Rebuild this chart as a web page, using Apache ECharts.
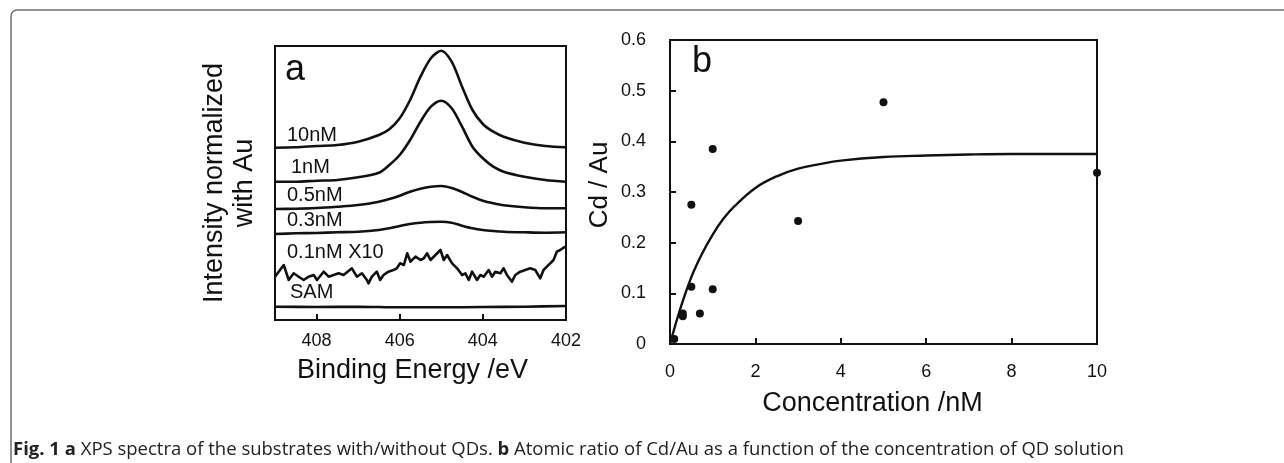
<!DOCTYPE html>
<html><head><meta charset="utf-8">
<script src="https://cdn.jsdelivr.net/npm/echarts@6/dist/echarts.min.js"></script>
<style>html,body{margin:0;padding:0;background:#fff}#c{width:1284px;height:463px}</style>
</head><body><div id="c"></div><script>
// ---- Panel a: XPS spectra (intensity in arbitrary offset units) ----
const energies = [409, 408.5, 408, 407.5, 407, 406.5, 406.25, 406, 405.75, 405.5, 405.25, 405, 404.75, 404.5, 404.25, 404, 403.75, 403.5, 403, 402.5, 402];
const spec10nM = [172.3, 172.7, 174, 175, 178.3, 185, 190.7, 201.7, 220, 243.3, 261.7, 269.3, 258.3, 233.3, 210, 196, 188.3, 183.3, 177.3, 174, 172.7];
const spec1nM = [138.3, 138.3, 139.3, 140, 142.7, 147.3, 155, 165, 180, 198.3, 213.3, 219.3, 211.7, 193.3, 173.3, 161.7, 153.3, 148.3, 143.3, 140, 138.3];
const spec05nM = [111, 111.3, 112, 113.3, 115, 118.3, 121, 124.3, 128.3, 131.3, 133.3, 134, 132, 128, 123.3, 119.3, 116.7, 114.7, 112.7, 111.7, 111.7];
const spec03nM = [86, 86.7, 87, 87.7, 88.3, 90, 91.7, 94, 96, 97.3, 98, 98.3, 97.3, 94.3, 91.7, 90, 89, 88.3, 87.7, 87.3, 87.7];
const noisyEnergy = [409, 408.79, 408.67, 408.55, 408.43, 408.31, 408.19, 408.07, 407.99, 407.83, 407.71, 407.59, 407.47, 407.35, 407.15, 407.03, 406.91, 406.79, 406.75, 406.67, 406.55, 406.47, 406.39, 406.27, 406.15, 406.07, 405.99, 405.90, 405.82, 405.74, 405.62, 405.50, 405.42, 405.34, 405.26, 405.14, 405.02, 404.94, 404.86, 404.74, 404.62, 404.50, 404.42, 404.34, 404.26, 404.14, 404.06, 403.98, 403.86, 403.78, 403.70, 403.58, 403.50, 403.42, 403.30, 403.22, 403.10, 402.98, 402.86, 402.74, 402.62, 402.54, 402.46, 402.38, 402.30, 402.22, 402.14, 402.02];
const spec01nM = [43.3, 55, 40, 46.7, 43.3, 40, 43.3, 45, 40, 48.3, 43.3, 45, 46.7, 45, 51.7, 43.3, 46.7, 40, 36.7, 43.3, 48.3, 40, 45, 48.3, 50, 51.7, 56.7, 55, 66.7, 58.3, 63.3, 60, 61.7, 66.7, 60, 65, 70, 60, 65, 56.7, 51.7, 45, 46.7, 40, 48.3, 40, 45, 43.3, 50, 43.3, 48.3, 46.7, 51.7, 45, 38.3, 45, 48.3, 50, 51.7, 50, 41.7, 50, 53.3, 56.7, 60, 68.3, 70, 73.3];
const samEnergy = [409, 408, 407, 406, 405, 404, 403, 402];
const specSAM = [13.3, 13, 13.3, 12.7, 12.7, 13, 13.3, 14];
const curveLabels = ['10nM', '1nM', '0.5nM', '0.3nM', '0.1nM X10', 'SAM'];

// ---- Panel b: Cd/Au ratio vs concentration ----
const concPoints = [0.1, 0.3, 0.3, 0.5, 0.5, 0.7, 1, 1, 3, 5, 10];
const ratioPoints = [0.01, 0.055, 0.06, 0.275, 0.113, 0.06, 0.385, 0.108, 0.243, 0.477, 0.338];
const fitConc = [0, 0.1, 0.25, 0.5, 0.75, 1, 1.25, 1.5, 2, 2.5, 3, 3.5, 4, 5, 6, 7, 8, 10];
const fitRatio = [0, 0.03, 0.072, 0.132, 0.178, 0.216, 0.247, 0.271, 0.308, 0.331, 0.346, 0.355, 0.362, 0.369, 0.372, 0.374, 0.375, 0.375];

const FONT = "'Liberation Sans', Arial, sans-serif";
const zip = (a, b) => a.map((v, i) => [v, b[i]]);
const lineSeries = (xs, ys) => ({
  type: 'line', xAxisIndex: 0, yAxisIndex: 0, data: zip(xs, ys), smooth: 0.3,
  showSymbol: false, lineStyle: { color: '#111', width: 2.6 }, clip: false, silent: true
});

const chart = echarts.init(document.getElementById('c'), null, { renderer: 'canvas' });
const labelY = [145, 177, 205, 230, 262, 302];
const labelX = [287, 291, 287, 287, 287, 290];

chart.setOption({
  animation: false,
  backgroundColor: '#fff',
  grid: [
    { left: 275, top: 46, width: 291, height: 274, show: true, borderColor: '#111', borderWidth: 2, backgroundColor: 'transparent' },
    { left: 670, top: 40, width: 427, height: 304, show: true, borderColor: '#111', borderWidth: 2, backgroundColor: 'transparent' }
  ],
  xAxis: [
    { gridIndex: 0, type: 'value', min: 402, max: 409, interval: 2, inverse: true,
      name: 'Binding Energy /eV', nameLocation: 'middle', nameGap: 37,
      nameTextStyle: { fontSize: 27, color: '#111', fontFamily: FONT, padding: [0, 16, 0, 0] },
      axisLine: { show: false }, splitLine: { show: false },
      axisTick: { show: true, inside: true, length: 6, lineStyle: { color: '#111', width: 2 } },
      axisLabel: { fontSize: 18, color: '#111', fontFamily: FONT, margin: 12, showMaxLabel: false } },
    { gridIndex: 1, type: 'value', min: 0, max: 10, interval: 2,
      name: 'Concentration /nM', nameLocation: 'middle', nameGap: 46,
      nameTextStyle: { fontSize: 27, color: '#111', fontFamily: FONT, padding: [0, 22, 0, 0] },
      axisLine: { show: false }, splitLine: { show: false },
      axisTick: { show: true, inside: true, length: 6, lineStyle: { color: '#111', width: 2 } },
      axisLabel: { fontSize: 18, color: '#111', fontFamily: FONT, margin: 19 } }
  ],
  yAxis: [
    { gridIndex: 0, type: 'value', min: 0, max: 274,
      name: 'Intensity normalized\nwith Au', nameLocation: 'middle', nameGap: 15,
      nameTextStyle: { fontSize: 27, lineHeight: 30, color: '#111', fontFamily: FONT },
      axisLine: { show: false }, axisTick: { show: false }, axisLabel: { show: false }, splitLine: { show: false } },
    { gridIndex: 1, type: 'value', min: 0, max: 0.6, interval: 0.1,
      name: 'Cd / Au', nameLocation: 'middle', nameGap: 57,
      nameTextStyle: { fontSize: 26, color: '#111', fontFamily: FONT, padding: [0, 0, 0, 14] },
      axisLine: { show: false }, splitLine: { show: false },
      axisTick: { show: true, inside: true, length: 6, lineStyle: { color: '#111', width: 2 } },
      axisLabel: { fontSize: 18, color: '#111', fontFamily: FONT, margin: 24 } }
  ],
  series: [
    lineSeries(energies, spec10nM),
    lineSeries(energies, spec1nM),
    lineSeries(energies, spec05nM),
    lineSeries(energies, spec03nM),
    Object.assign(lineSeries(noisyEnergy, spec01nM), { smooth: false, lineStyle: { color: '#111', width: 2.6, join: 'round' } }),
    lineSeries(samEnergy, specSAM),
    { type: 'line', xAxisIndex: 1, yAxisIndex: 1, data: zip(fitConc, fitRatio), smooth: 0.4,
      showSymbol: false, lineStyle: { color: '#111', width: 2.4 }, silent: true },
    { type: 'scatter', xAxisIndex: 1, yAxisIndex: 1, data: zip(concPoints, ratioPoints),
      symbol: 'circle', symbolSize: 8, itemStyle: { color: '#111', opacity: 1 }, clip: false, silent: true }
  ],
  graphic: [
    { type: 'rect', z: -10, silent: true, shape: { x: 11, y: 10, width: 1400, height: 600, r: 6 },
      style: { fill: 'none', stroke: '#707070', lineWidth: 1.5 } },
    { type: 'text', left: 285, top: 52, silent: true, style: { text: 'a', font: "36px " + FONT, fill: '#111' } },
    { type: 'text', left: 692, top: 44, silent: true, style: { text: 'b', font: "36px " + FONT, fill: '#111' } }
  ].concat(curveLabels.map((t, i) => ({
    type: 'text', silent: true, x: labelX[i], y: labelY[i],
    style: { text: t, font: "20px " + FONT, fill: '#111', verticalAlign: 'bottom' }
  }))).concat([
    { type: 'text', silent: true, x: 13, y: 440,
      style: { text: '{b|Fig. 1 a} XPS spectra of the substrates with/without QDs. {b|b} Atomic ratio of Cd/Au as a function of the concentration of QD solution',
        font: "18.5px 'Open Sans', sans-serif", fill: '#222',
        rich: { b: { fontWeight: 'bold', fontSize: 18.5, fontFamily: "'Open Sans', sans-serif" } } } }
  ])
});
</script></body></html>
